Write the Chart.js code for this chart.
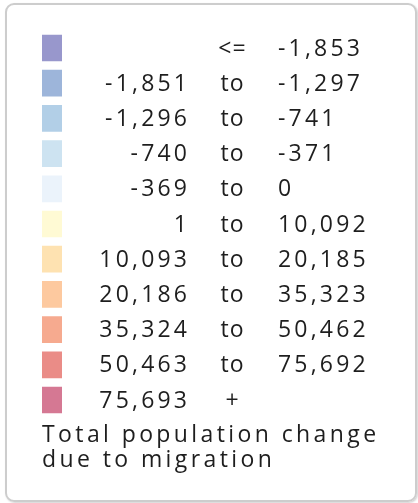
<!DOCTYPE html>
<html>
<head>
<meta charset="utf-8">
<script src="https://cdn.jsdelivr.net/npm/chart.js@4"></script>
<style>
    html, body { margin: 0; padding: 0; background: #ffffff; }
    #caja {
        position: absolute; left: 5px; top: 3px;
        width: 408px; height: 495px;
        border: 2px solid #cdcdcd; border-radius: 9px;
        box-shadow: 1px 1px 2px rgba(0, 0, 0, 0.18);
    }
    #lienzo { position: absolute; left: 0; top: 0; }
</style>
</head>
<body>
<div id="caja"></div>
<canvas id="lienzo" width="418" height="503"></canvas>
<script>
// Clases de la leyenda (de arriba hacia abajo)
const colores = ['#9897cc', '#9db5da', '#b2cfe7', '#cde3f1', '#ebf3fb', '#fffad4',
                 '#fee2b1', '#fdc99f', '#f6aa8f', '#ea8c87', '#d57893'];
const desde = ['', '-1,851', '-1,296', '-740', '-369', '1',
               '10,093', '20,186', '35,324', '50,463', '75,693'];
const conector = ['<=', 'to', 'to', 'to', 'to', 'to', 'to', 'to', 'to', 'to', '+'];
const hasta = ['-1,853', '-1,297', '-741', '-371', '0', '10,092',
               '20,185', '35,323', '50,462', '75,692', ''];
const titulo = ['Total population change', 'due to migration'];

const FUENTE = '23px "Open Sans"';
const ESPACIADO = 3.2;   // separación entre letras
const COLOR_TEXTO = '#1e1e1e';

// Plugin que escribe las tres columnas de texto y el título, usando la escala Y
const textosLeyenda = {
    id: 'textosLeyenda',
    afterDatasetsDraw(chart) {
        const ctx = chart.ctx;
        const y = chart.scales.y;
        ctx.save();
        ctx.font = FUENTE;
        ctx.fillStyle = COLOR_TEXTO;
        ctx.textBaseline = 'alphabetic';

        desde.forEach((txt, i) => {
            const base = y.getPixelForValue(i) + 7.5;
            ctx.letterSpacing = ESPACIADO + 'px';
            // columna izquierda alineada a la derecha
            ctx.textAlign = 'right';
            ctx.fillText(txt, 187 + ESPACIADO, base);
            // columna derecha
            ctx.textAlign = 'left';
            ctx.fillText(hasta[i], 278, base);
            // columna central (más apretada)
            ctx.letterSpacing = '1px';
            ctx.textAlign = 'center';
            ctx.fillText(conector[i], 232.5, base);
        });

        // Título en dos líneas bajo la última fila
        const ultima = y.getPixelForValue(desde.length - 1);
        ctx.letterSpacing = '3.4px';
        ctx.textAlign = 'left';
        titulo.forEach((linea, k) => {
            ctx.fillText(linea, 42, ultima + 42 + k * 25);
        });
        ctx.restore();
    }
};

new Chart(document.getElementById('lienzo'), {
    type: 'bar',
    data: {
        labels: desde.map((_, i) => i),
        datasets: [{
            data: colores.map(() => [0, 1]),   // barras flotantes = cuadros de color
            backgroundColor: colores,
            barThickness: 26,
            borderWidth: 0
        }]
    },
    options: {
        indexAxis: 'y',
        responsive: false,
        animation: false,
        layout: { padding: { left: 42, right: 356, top: 30.4, bottom: 85.4 } },
        plugins: { legend: { display: false }, tooltip: { enabled: false } },
        scales: {
            x: { display: false, min: 0, max: 1 },
            y: { display: false, offset: true }
        }
    },
    plugins: [textosLeyenda]
});
</script>
</body>
</html>
